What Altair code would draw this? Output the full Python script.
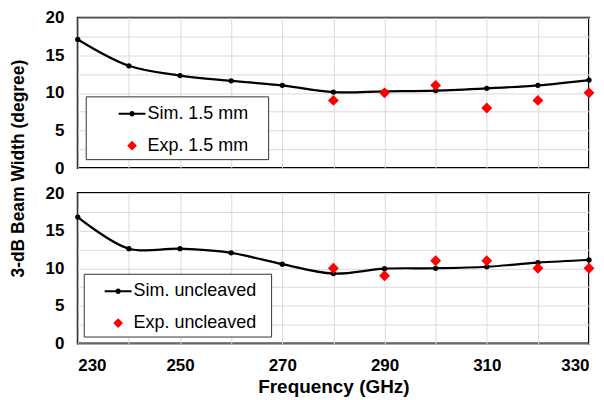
import altair as alt
import pandas as pd

freq = [230, 240, 250, 260, 270, 280, 290, 300, 310, 320, 330]
sim_top = [17.1, 13.6, 12.3, 11.6, 11.0, 10.1, 10.2, 10.3, 10.6, 11.0, 11.7]
sim_bot = [16.8, 12.6, 12.6, 12.05, 10.55, 9.3, 9.95, 10.0, 10.2, 10.75, 11.1]
exp_freq = [280, 290, 300, 310, 320, 330]
exp_top = [9, 10, 11, 8, 9, 10]
exp_bot = [10, 9, 11, 11, 10, 10]

names_top = ["Sim. 1.5 mm", "Exp. 1.5 mm"]
names_bot = ["Sim. uncleaved", "Exp. uncleaved"]

x_ticks = list(range(230, 331, 10))
y_ticks = [0, 2.5, 5, 7.5, 10, 12.5, 15, 17.5, 20]

FONT = "Liberation Sans"
SIM_PATH = ("M-1,-0.074H1V0.074H-1Z "
            "M0.2,0A0.2,0.2,0,1,1,-0.2,0A0.2,0.2,0,1,1,0.2,0Z")
DIA_PATH = "M0,-0.36L0.36,0L0,0.36L-0.36,0Z"


def panel(sim, exp, names, show_x, leg_x, leg_y, sym_off, trail):
    df_sim = pd.DataFrame({"f": freq, "w": sim, "s": names[0]})
    df_exp = pd.DataFrame({"f": exp_freq, "w": exp, "s": names[1]})
    df_all = pd.concat([df_sim, df_exp])

    x_axis = alt.Axis(
        values=x_ticks,
        labelExpr="(datum.value - 230) % 20 == 0 ? datum.label : ''",
        labels=show_x,
        title="Frequency (GHz)" if show_x else None,
        grid=True, gridColor="#d9d9d9", gridWidth=1,
        ticks=False, domain=False,
        labelFont=FONT, labelFontSize=17, labelFontWeight="bold",
        labelColor="black", labelPadding=14,
        titleFont=FONT, titleFontSize=19, titleFontWeight="bold",
        titleColor="black", titlePadding=4,
    )
    y_axis = alt.Axis(
        values=y_ticks,
        labelExpr="datum.value % 5 == 0 ? datum.label : ''",
        title=None,
        grid=True, gridColor="#d9d9d9", gridWidth=1,
        ticks=False, domain=False,
        labelFont=FONT, labelFontSize=17, labelFontWeight="bold",
        labelColor="black", labelPadding=14,
    )
    X = alt.X("f:Q", scale=alt.Scale(domain=[230, 330], nice=False, zero=False), axis=x_axis)
    Y = alt.Y("w:Q", scale=alt.Scale(domain=[0, 20], nice=False), axis=y_axis)

    line = alt.Chart(df_sim).mark_line(
        color="black", strokeWidth=2.2, interpolate="catmull-rom"
    ).encode(x=X, y=Y)
    dots = alt.Chart(df_sim).mark_point(
        filled=True, color="black", size=28, opacity=1
    ).encode(x=X, y=Y)
    dia = alt.Chart(df_exp).mark_point(
        filled=True, color="#ff0000", shape="diamond", size=120, opacity=1
    ).encode(x=X, y=Y)

    legend = alt.Legend(
        orient="none", legendX=leg_x, legendY=leg_y, title=None,
        fillColor="white", strokeColor="#333333",
        padding=4, rowPadding=9, symbolOffset=sym_off,
        symbolSize=729, symbolStrokeWidth=0, symbolOpacity=1,
        labelFont=FONT, labelFontSize=18, labelColor="black",
        labelOffset=2, labelLimit=400,
        labelExpr="datum.label + '" + "\u00a0" * trail + "\u200b'",
    )
    leg = alt.Chart(df_all).mark_point(filled=True, opacity=0, size=10).encode(
        x=X, y=Y,
        color=alt.Color("s:N", scale=alt.Scale(domain=names, range=["black", "red"]), legend=legend),
        shape=alt.Shape("s:N", scale=alt.Scale(domain=names, range=[SIM_PATH, DIA_PATH]), legend=legend),
    )
    return alt.layer(line, dots, dia, leg).properties(width=513, height=151)


top = panel(sim_top, exp_top, names_top, False, 8, 79, 29, 3)
bot = panel(sim_bot, exp_bot, names_bot, True, 6, 81, 17, 2)

chart = alt.vconcat(top, bot, spacing=6).resolve_scale(
    color="independent", shape="independent"
).properties(
    title=alt.TitleParams(
        "3-dB Beam Width (degree)", orient="left", anchor="middle",
        fontSize=17.5, font=FONT, fontWeight="bold", color="black",
        offset=17, dx=34,
    ),
    padding={"left": 1, "top": -1, "right": 0, "bottom": 0},
).configure_view(stroke="black", strokeWidth=2)

chart.save("out.html", embed_options={"renderer": "svg", "actions": False})
